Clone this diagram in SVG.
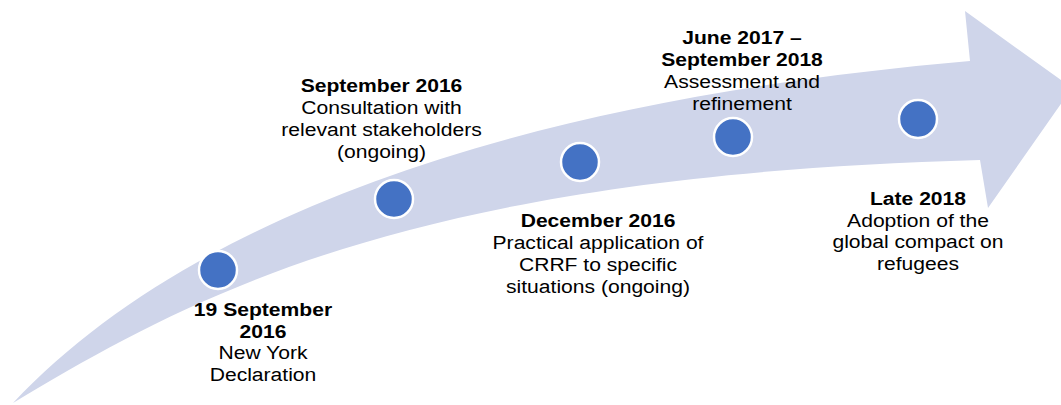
<svg xmlns="http://www.w3.org/2000/svg" width="1061" height="405" viewBox="0 0 1061 405">
<style>
.band{fill:#CFD5EA;stroke:none}
.dot{fill:#4472C4;stroke:#FFFFFF;stroke-width:2.5}
text{font-family:"Liberation Sans",Arial,sans-serif;font-size:19px;fill:#000000;text-anchor:middle}
.b{font-weight:bold}
</style>
<rect width="1061" height="405" fill="#FFFFFF"/>
<g id="connectors">
<path class="band" d="M13,403 C190,215 520,100 970,61 L965,11 L1072,88 L988,208 L980,160 C420,175 200,290 13,403 Z"/>
</g>
<g id="node1">
<circle class="dot" cx="218" cy="270" r="19"/>
<g transform="translate(263,0) scale(1.11,1)">
<text class="b" x="0" y="316">19 September</text>
<text class="b" x="0" y="337.7">2016</text>
<text x="0" y="359.4">New York</text>
<text x="0" y="381">Declaration</text>
</g>
</g>
<g id="node2">
<circle class="dot" cx="394" cy="199" r="19"/>
<g transform="translate(381.5,0) scale(1.11,1)">
<text class="b" x="0" y="92">September 2016</text>
<text x="0" y="114">Consultation with</text>
<text x="0" y="136">relevant stakeholders</text>
<text x="0" y="158">(ongoing)</text>
</g>
</g>
<g id="node3">
<circle class="dot" cx="580" cy="162" r="19"/>
<g transform="translate(598,0) scale(1.11,1)">
<text class="b" x="0" y="227.5">December 2016</text>
<text x="0" y="249.3">Practical application of</text>
<text x="0" y="271">CRRF to specific</text>
<text x="0" y="292.8">situations (ongoing)</text>
</g>
</g>
<g id="node4">
<circle class="dot" cx="733" cy="137" r="19"/>
<g transform="translate(742,0) scale(1.11,1)">
<text class="b" x="0" y="44.5">June 2017 –</text>
<text class="b" x="0" y="66.2">September 2018</text>
<text x="0" y="88">Assessment and</text>
<text x="0" y="109.7">refinement</text>
</g>
</g>
<g id="node5">
<circle class="dot" cx="918" cy="119" r="19"/>
<g transform="translate(918,0) scale(1.11,1)">
<text class="b" x="0" y="205">Late 2018</text>
<text x="0" y="226.7">Adoption of the</text>
<text x="0" y="248.4">global compact on</text>
<text x="0" y="270">refugees</text>
</g>
</g>
</svg>
